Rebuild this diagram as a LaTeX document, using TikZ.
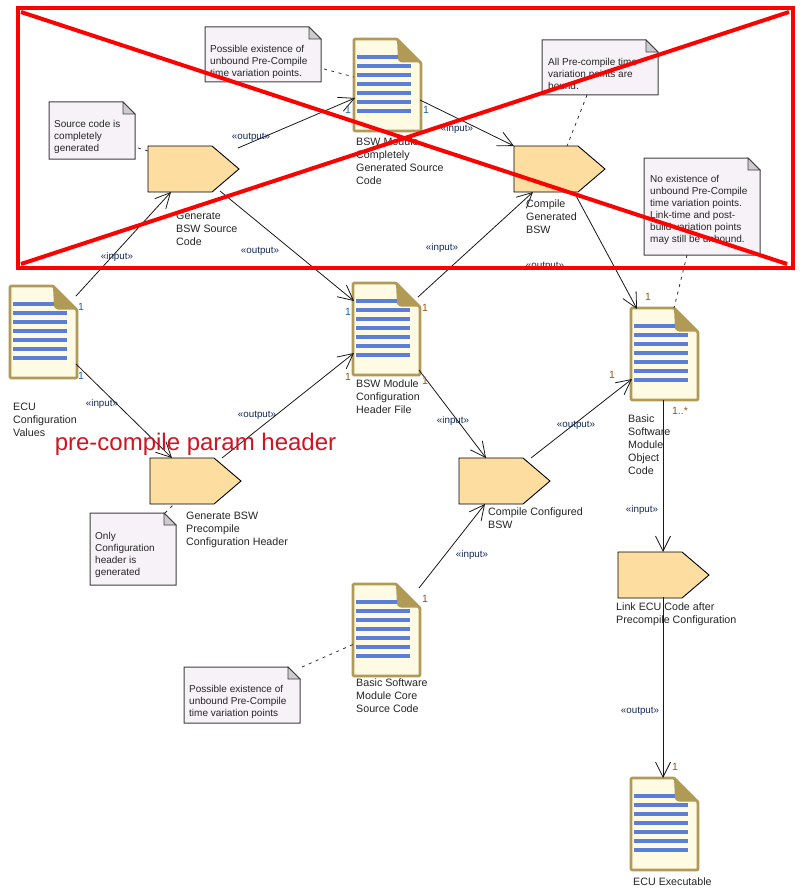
\documentclass[tikz,border=0pt]{standalone}
\usepackage{fontspec}
\setmainfont{Liberation Sans}
\usetikzlibrary{arrows.meta}
\definecolor{docedge}{RGB}{176,154,86}
\definecolor{docfill}{RGB}{255,250,227}
\definecolor{docline}{RGB}{91,127,214}
\definecolor{actfill}{RGB}{253,222,160}
\definecolor{notefill}{RGB}{246,242,247}
\definecolor{notefold}{RGB}{205,203,207}
\definecolor{stereo}{RGB}{20,40,90}
\definecolor{multblue}{RGB}{30,100,170}
\definecolor{multbrown}{RGB}{150,85,20}
\definecolor{stamp}{RGB}{255,0,0}
\definecolor{capred}{RGB}{205,22,32}
\tikzset{
  anchorbox/.style={anchor=north west,inner sep=0pt,outer sep=0pt,minimum width=#1},
  caption/.style={anchor=north west,inner sep=0pt,align=left,font=\fontsize{10.7}{13}\selectfont,text=black!85},
  notetext/.style={anchor=north west,inner sep=0pt,align=left,font=\fontsize{10}{12}\selectfont,text=black!85},
  stereotype/.style={inner sep=0pt,font=\fontsize{9.8}{11}\selectfont,text=stereo},
  multa/.style={inner sep=0pt,font=\fontsize{10.5}{11}\selectfont,text=multblue},
  multb/.style={inner sep=0pt,font=\fontsize{10.5}{11}\selectfont,text=multbrown},
  flow/.style={draw=black!90,line width=0.8pt,-{Straight Barb[length=15pt,width=15pt,line width=0.8pt]}},
  noteline/.style={draw=black!80,line width=0.8pt,dash pattern=on 3pt off 4.5pt},
  actshape/.style={draw=black,line width=0.9pt,fill=actfill,line join=miter},
  noteshape/.style={draw=black!75,line width=1pt,fill=notefill},
  stampline/.style={draw=stamp,line width=4pt}
}
\newcommand{\docnode}[3]{%
  \node[anchorbox=67pt,minimum height=92pt] (#1) at (#2,#3) {};
  \begin{scope}[shift={(#1.north west)}]
    \draw[draw=docedge,line width=2.8pt,fill=docfill,rounded corners=1pt,line join=round]
      (0,0) -- (43,0) -- (67,24) -- (67,92) -- (0,92) -- cycle;
    \fill[docedge,rounded corners=1pt] (43,0) -- (67,23.5) -- (47,23.5) -- (44,21) -- cycle;
    \fill[docline] (3,16.2) rectangle (43.5,19.8);
    \foreach \yy in {27,36,45,54,63,72} {\fill[docline] (3,\yy-1.8) rectangle (56.5,\yy+1.8);}
  \end{scope}}
\newcommand{\actnode}[3]{%
  \node[anchorbox=91pt,minimum height=46pt] (#1) at (#2,#3) {};
  \draw[actshape] (#1.north west) -- ([xshift=64pt]#1.north west) -- (#1.east)
    -- ([xshift=64pt]#1.south west) -- (#1.south west) -- cycle;}
\newcommand{\notenode}[5]{% name x y w h
  \node[anchorbox=#4pt,minimum height=#5pt] (#1) at (#2,#3) {};
  \draw[noteshape] (#1.north west) -- ([xshift=-12pt]#1.north east)
    -- ([yshift=-12pt]#1.north east) -- (#1.south east) -- (#1.south west) -- cycle;
  \draw[draw=black!75,line width=0.8pt,fill=notefold] ([xshift=-12pt]#1.north east)
    -- ([yshift=-12pt]#1.north east) -- ([xshift=-12pt,yshift=-12pt]#1.north east) -- cycle;}
\newcommand{\pt}[3]{([shift={(#2,#3)}]#1.north west)}
\begin{document}
\begin{tikzpicture}[x=1pt,y=-1pt]
\useasboundingbox[fill=white] (0,0) rectangle (804,888);
% notes
\notenode{nsrc}{49}{102}{86}{57}
\notenode{nposa}{205}{27}{116}{55}
\notenode{nall}{542}{40}{116}{55}
\notenode{nnone}{644}{158}{116}{97}
\notenode{nonly}{90}{513}{86}{72}
\notenode{nposb}{184}{667}{116}{56}
% activities
\actnode{agensrc}{148}{146}
\actnode{acompgen}{514}{146}
\actnode{agenhdr}{150}{458}
\actnode{acompcfg}{459}{458}
\actnode{alink}{618}{552}
% documents
\docnode{decu}{10}{286}
\docnode{dfull}{354}{39}
\docnode{dhdr}{353}{283}
\docnode{dobj}{631}{308}
\docnode{dcore}{353}{584}
\docnode{dexe}{631}{778}
% flows
\draw[flow] \pt{decu}{66}{10} -- \pt{agensrc}{23}{46};
\draw[flow] \pt{agensrc}{90}{2} -- \pt{dfull}{1}{59};
\draw[flow] \pt{agensrc}{72}{45} -- \pt{dhdr}{1}{18};
\draw[flow] \pt{dfull}{66}{61} -- \pt{acompgen}{0}{0};
\draw[flow] \pt{dhdr}{65}{14} -- \pt{acompgen}{19}{46};
\draw[flow] \pt{acompgen}{60}{46} -- \pt{dobj}{6}{1};
\draw[flow] \pt{decu}{66}{78} -- \pt{agenhdr}{22}{0};
\draw[flow] \pt{agenhdr}{72}{0} -- \pt{dhdr}{1}{70};
\draw[flow] \pt{dhdr}{66}{87} -- \pt{acompcfg}{27}{0};
\draw[flow] \pt{acompcfg}{72}{0} -- \pt{dobj}{1}{71};
\draw[flow] \pt{dcore}{66}{4} -- \pt{acompcfg}{26}{46};
\draw[flow] \pt{dobj}{32}{92} -- \pt{alink}{45}{0};
\draw[flow] \pt{alink}{45}{45} -- \pt{dexe}{32}{0};
% note links
\draw[noteline] \pt{nsrc}{89}{46} -- \pt{agensrc}{0}{5};
\draw[noteline] \pt{nposa}{119}{42} -- \pt{dfull}{0}{38};
\draw[noteline] \pt{nall}{45}{55} -- \pt{acompgen}{53}{0};
\draw[noteline] \pt{nnone}{43}{97} -- \pt{dobj}{43}{0};
\draw[noteline] \pt{nonly}{75}{0} -- \pt{agenhdr}{24}{46};
\draw[noteline] \pt{nposb}{118}{0} -- \pt{dcore}{1}{60};
% captions
\node[caption] (ta) at (13,403) {ECU\\Configuration\\Values};
\node[caption] (tb) at (356,138) {BSW Module\\Completely\\Generated Source\\Code};
\node[caption] (tc) at (176,212) {Generate\\BSW Source\\Code};
\node[caption] (td) at (526,200) {Compile\\Generated\\BSW};
\node[caption] (te) at (186,512) {Generate BSW\\Precompile\\Configuration Header};
\node[caption] (tf) at (356,380) {BSW Module\\Configuration\\Header File};
\node[caption] (tg) at (488,508) {Compile Configured\\BSW};
\node[caption] (th) at (628,415) {Basic\\Software\\Module\\Object\\Code};
\node[caption] (ti) at (616,603) {Link ECU Code after\\Precompile Configuration};
\node[caption] (tj) at (356,679) {Basic Software\\Module Core\\Source Code};
\node[caption] (tk) at (633,878) {ECU Executable};
% note texts
\node[notetext] (ua) at (54,120) {Source code is\\completely\\generated};
\node[notetext] (ub) at (210,45) {Possible existence of\\unbound Pre-Compile\\time variation points.};
\node[notetext] (uc) at (548,58) {All Pre-compile time\\variation points are\\bound.};
\node[notetext] (ud) at (650,175) {No existence of\\unbound Pre-Compile\\time variation points.\\Link-time and post-\\build variation points\\may still be unbound.};
\node[notetext] (ue) at (95,532) {Only\\Configuration\\header is\\generated};
\node[notetext] (uf) at (189,685) {Possible existence of\\unbound Pre-Compile\\time variation points};
% stereotypes
\node[stereotype] (s1) at (117,257) {«input»};
\node[stereotype] (s2) at (251,137) {«output»};
\node[stereotype] (s3) at (260,251) {«output»};
\node[stereotype] (s4) at (457,129) {«input»};
\node[stereotype] (s5) at (442,248) {«input»};
\node[stereotype] (s6) at (545,266) {«output»};
\node[stereotype] (s7) at (102,404) {«input»};
\node[stereotype] (s8) at (257,415) {«output»};
\node[stereotype] (s9) at (453,421) {«input»};
\node[stereotype] (s10) at (576,425) {«output»};
\node[stereotype] (s11) at (472,555) {«input»};
\node[stereotype] (s12) at (642,510) {«input»};
\node[stereotype] (s13) at (640,711) {«output»};
% multiplicities
\node[multa] (m1) at (348,110) {1};
\node[multa] (m2) at (426,110) {1};
\node[multa] (m3) at (81,307) {1};
\node[multa] (m4) at (81,376) {1};
\node[multa] (m5) at (348,312) {1};
\node[multb] (m6) at (348,377) {1};
\node[multb] (m7) at (425,308) {1};
\node[multb] (m8) at (425,381) {1};
\node[multb] (m9) at (648,297) {1};
\node[multb] (m10) at (612,375) {1};
\node[multb] (m11) at (680,411) {1..*};
\node[multb] (m12) at (425,599) {1};
\node[multb] (m13) at (675,767) {1};
% overlay
\node[inner sep=0pt,text=capred,font=\fontsize{24}{28}\selectfont] (cap) at (195.5,444) {pre-compile param header};
\draw[stampline] (17.5,8) rectangle (793,268);
\draw[stampline] (21,12) -- (787,264);
\draw[stampline] (21,264) -- (789,12);
\end{tikzpicture}
\end{document}
